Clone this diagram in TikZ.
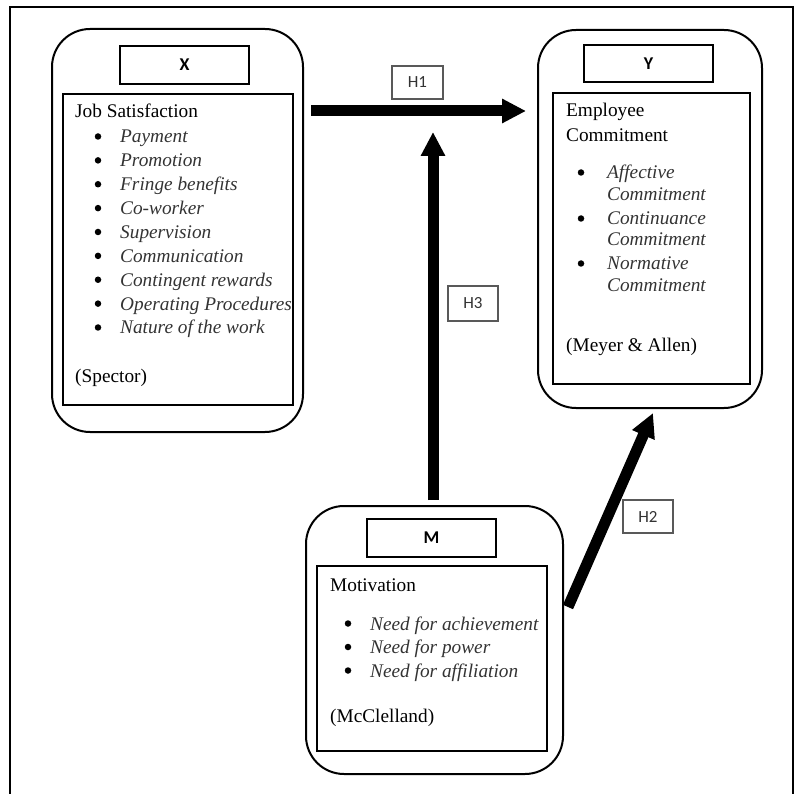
\documentclass[tikz,border=0pt]{standalone}
\usepackage{fontspec}
\setmainfont{Liberation Serif}
\newfontfamily\calfont{Carlito}
\usetikzlibrary{arrows.meta}
\tikzset{
  outerbox/.style={draw, line width=2pt, rounded corners=38pt, inner sep=0pt},
  innerbox/.style={draw, line width=2.6pt, inner sep=0pt},
  labbox/.style={draw, line width=2pt, inner sep=0pt, font=\calfont\fontsize{18}{20}\selectfont\bfseries},
  hbox/.style={draw=black!65, line width=1.2pt, inner sep=0pt, text=black!80, font=\calfont\fontsize{17}{19}\selectfont},
  txt/.style={anchor=base west, inner sep=0pt, font=\fontsize{19.3}{24}\selectfont},
  itm/.style={anchor=base west, inner sep=0pt, text=black!80, font=\fontsize{19.3}{24}\selectfont\itshape},
  bul/.style={circle, fill=black, inner sep=0pt, minimum size=6.5pt},
  bigarrow/.style={line width=11pt, -{Triangle[length=24pt,width=23pt]}}
}
\begin{document}
\begin{tikzpicture}[x=1pt,y=-1pt]
\useasboundingbox (0,0) rectangle (798,794);
% frame
\draw[line width=1.5pt] (10,794) -- (10,7) -- (793,7) -- (793,794);

% ---- X box
\node[outerbox, minimum width=251pt, minimum height=403pt] (X) at (177.5,230.5) {};
\node[labbox, minimum width=129pt, minimum height=38pt] (Xl) at (184.5,65) {X};
\node[innerbox, minimum width=230pt, minimum height=311pt] (Xi) at (178,249.5) {};
\node[txt] (x0) at (75,118) {Job Satisfaction};
\foreach \t [count=\i from 0] in {Payment,Promotion,Fringe benefits,Co-worker,Supervision,Communication,Contingent rewards,Operating Procedures,Nature of the work}{
  \node[bul] (xb\i) at (98,143+23.875*\i-6.5) {};
  \node[itm] (xi\i) at (120,143+23.875*\i) {\t};
}
\node[txt] (x9) at (75,382) {(Spector)};

% ---- Y box
\node[outerbox, minimum width=224pt, minimum height=378pt] (Y) at (650,219) {};
\node[labbox, minimum width=129pt, minimum height=37pt] (Yl) at (648.5,63.5) {Y};
\node[innerbox, minimum width=197pt, minimum height=291pt] (Yi) at (651.5,238.5) {};
\node[txt] (y0) at (566,117) {Employee};
\node[txt] (y1) at (566,142) {Commitment};
\node[bul] (yb1) at (581,172.5) {};
\node[itm] (yi1) at (607,179) {Affective};
\node[itm] (yi1b) at (607,201) {Commitment};
\node[bul] (yb2) at (581,218.5) {};
\node[itm] (yi2) at (607,225) {Continuance};
\node[itm] (yi2b) at (607,246) {Commitment};
\node[bul] (yb3) at (581,263.5) {};
\node[itm] (yi3) at (607,270) {Normative};
\node[itm] (yi3b) at (607,292) {Commitment};
\node[txt] (y9) at (566,352) {(Meyer \& Allen)};

% ---- M box
\node[outerbox, minimum width=257pt, minimum height=268pt] (M) at (434.5,640) {};
\node[labbox, minimum width=129pt, minimum height=38pt] (Ml) at (431.5,538) {M};
\node[innerbox, minimum width=230pt, minimum height=185pt] (Mi) at (432,658.5) {};
\node[txt] (m0) at (330,591) {Motivation};
\foreach \t [count=\i from 0] in {Need for achievement,Need for power,Need for affiliation}{
  \node[bul] (mb\i) at (348,630+23.5*\i-6.5) {};
  \node[itm] (mi\i) at (370,630+23.5*\i) {\t};
}
\node[txt] (m9) at (330,722) {(McClelland)};

% ---- hypothesis labels
\node[hbox, minimum width=51pt, minimum height=33pt] (H1) at (417.5,82.5) {H1};
\node[hbox, minimum width=50pt, minimum height=35pt] (H3) at (473,303.5) {H3};
\node[hbox, minimum width=50pt, minimum height=33pt] (H2) at (648,516.5) {H2};

% ---- arrows
\coordinate (h1s) at (311,111);
\coordinate (h1e) at (526,111);
\coordinate (h3s) at (433,500);
\coordinate (h3e) at (433,132);
\coordinate (h2s) at (568,607);
\coordinate (h2e) at (653,413);
\draw[bigarrow] (h1s) -- (h1e);
\draw[bigarrow] (h3s) -- (h3e);
\draw[bigarrow] (h2s) -- (h2e);
\end{tikzpicture}
\end{document}
